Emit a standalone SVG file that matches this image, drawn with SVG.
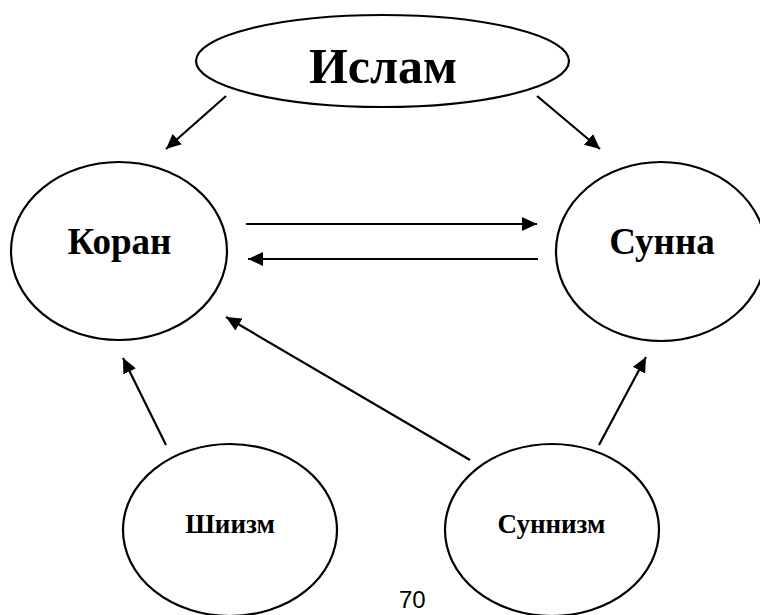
<svg xmlns="http://www.w3.org/2000/svg" width="760" height="615" viewBox="0 0 760 615">
<style>
.node{fill:#fff;stroke:#000;stroke-width:2.2}
.lbl{font-family:"Liberation Serif","Times New Roman",serif;font-weight:bold;fill:#000;text-anchor:middle}
.edge{stroke:#000;stroke-width:2.2;fill:none;marker-end:url(#ah)}
</style>
<defs>
<marker id="ah" markerUnits="userSpaceOnUse" markerWidth="16" markerHeight="14" refX="15" refY="7" orient="auto">
<path d="M0,0 L15,7 L0,14 z" fill="#000"/>
</marker>
</defs>
<rect width="760" height="615" fill="#fff"/>
<g id="islam"><ellipse class="node" cx="382.5" cy="61" rx="186.5" ry="46"/><text class="lbl" x="383" y="83" font-size="50">Ислам</text></g>
<g id="koran"><ellipse class="node" cx="119" cy="251" rx="108" ry="89"/><text class="lbl" x="119.5" y="254" font-size="37">Коран</text></g>
<g id="sunna"><ellipse class="node" cx="661" cy="251.5" rx="105" ry="89.5"/><text class="lbl" x="662" y="254" font-size="37">Сунна</text></g>
<g id="shiizm"><ellipse class="node" cx="230" cy="530" rx="107" ry="86"/><text class="lbl" x="230" y="533" font-size="27">Шиизм</text></g>
<g id="sunnizm"><ellipse class="node" cx="552" cy="530" rx="107" ry="86"/><text class="lbl" x="551.5" y="533" font-size="27">Суннизм</text></g>
<g id="connectors">
<line class="edge" x1="226" y1="96" x2="166" y2="149"/>
<line class="edge" x1="537" y1="96" x2="600" y2="149"/>
<line class="edge" x1="246" y1="224" x2="537" y2="224"/>
<line class="edge" x1="538" y1="259" x2="248" y2="259"/>
<line class="edge" x1="166" y1="445" x2="123" y2="358"/>
<line class="edge" x1="470" y1="460" x2="226" y2="317"/>
<line class="edge" x1="599" y1="445" x2="646" y2="357"/>
</g>
<text x="399" y="608" font-family="'Liberation Sans',Arial,sans-serif" font-size="24" fill="#000">70</text>
</svg>
